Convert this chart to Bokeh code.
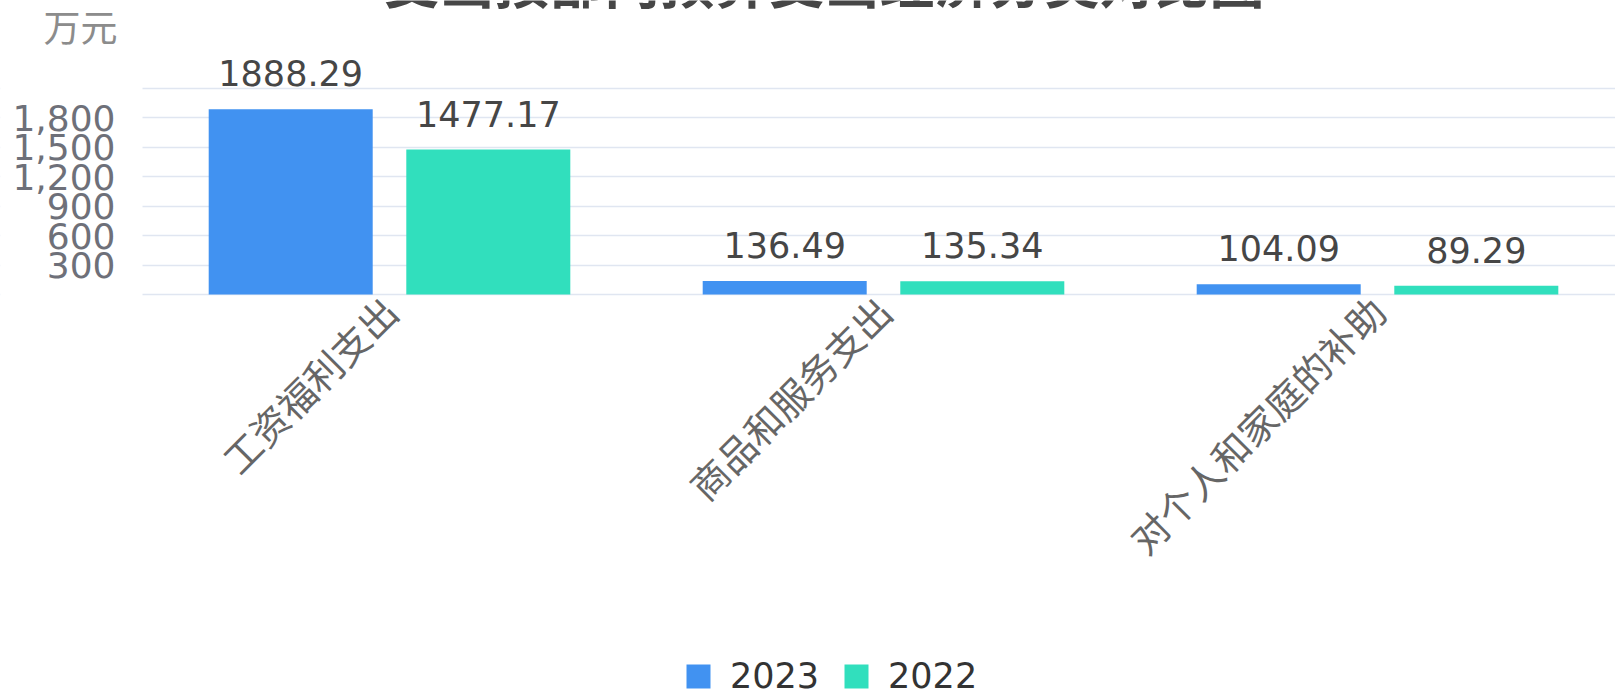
from math import pi
from bokeh.plotting import figure
from bokeh.models import (ColumnDataSource, Range1d, FixedTicker, NumeralTickFormatter,
                          Label, Legend, LegendItem, BoxAnnotation)
from bokeh.transform import dodge
from bokeh.core.properties import value
from bokeh.embed import file_html
from bokeh.resources import INLINE

# ---------------- data ----------------
categories = ["工资福利支出", "商品和服务支出", "对个人和家庭的补助"]
series_names = ["2023", "2022"]
values_2023 = [1888.29, 136.49, 104.09]
values_2022 = [1477.17, 135.34, 89.29]
y_tick_values = [300, 600, 900, 1200, 1500, 1800]
grid_values = [0, 300, 600, 900, 1200, 1500, 1800, 2100]
title_text = "支出按部门预算支出经济分类对比图"
unit_text = "万元"

# ---------------- styles / layout (pixels) ----------------
C_2023 = "#4192f1"
C_2022 = "#31dfbd"
GRID = "#e0e6f1"
NUM_FONT = value("DejaVu Sans")

W, H = 1615, 695
AXIS_X_PX = 142        # where the value axis sits
ZERO_Y_PX = 294        # where the category axis sits (from top)
CAT_PX = 494           # width of one category
AXIS_MAX = 2100
AXIS_PX = 206          # pixel height of 0..2100
u_per_px = AXIS_MAX / AXIS_PX

x_start = -0.5 - AXIS_X_PX / CAT_PX
x_end = -0.5 + (W - AXIS_X_PX) / CAT_PX
y_start = -(H - ZERO_Y_PX) * u_per_px
y_end = ZERO_Y_PX * u_per_px

positions = list(range(len(categories)))
src = ColumnDataSource(dict(
    x=positions,
    v2023=values_2023,
    v2022=values_2022,
    t2023=["%.2f" % v for v in values_2023],
    t2022=["%.2f" % v for v in values_2022],
))

p = figure(width=W, height=H,
           x_range=Range1d(x_start, x_end), y_range=Range1d(y_start, y_end),
           toolbar_location=None, output_backend="svg", min_border=0)
p.outline_line_color = None
p.background_fill_color = "white"
p.border_fill_color = "white"

r1 = p.vbar(x=dodge("x", -0.2), top="v2023", width=0.332, source=src,
            fill_color=C_2023, line_color=None)
r2 = p.vbar(x=dodge("x", 0.2), top="v2022", width=0.332, source=src,
            fill_color=C_2022, line_color=None)

for col, off in (("2023", -0.2), ("2022", 0.2)):
    p.text(x=dodge("x", off), y="v" + col, text="t" + col, source=src,
           text_align="center", text_baseline="alphabetic", y_offset=-36,
           text_font=NUM_FONT, text_font_size="35px", text_color="#464646")

# grid (value lines start at the value axis)
p.xgrid.visible = False
p.ygrid.ticker = FixedTicker(ticks=grid_values)
p.ygrid.grid_line_color = GRID
p.ygrid.grid_line_width = 1.5
p.add_layout(BoxAnnotation(right=-0.5, fill_color="white", fill_alpha=1.0,
                           line_color=None, level="underlay"))

# x axis, fixed at value 0
p.xaxis.fixed_location = 0
p.xaxis.ticker = FixedTicker(ticks=positions)
p.xaxis.major_label_overrides = {i: c for i, c in zip(positions, categories)}
p.xaxis.major_label_orientation = pi / 4
p.xaxis.major_label_text_font = "Noto Sans CJK SC"
p.xaxis.major_label_text_font_size = "38px"
p.xaxis.major_label_text_color = "#666666"
p.xaxis.major_label_standoff = 3
p.xaxis.axis_line_color = None
p.xaxis.major_tick_line_color = None
p.xaxis.minor_tick_line_color = None

# y axis, fixed at the left edge of the first category
p.yaxis.fixed_location = -0.5
p.yaxis.ticker = FixedTicker(ticks=y_tick_values)
p.yaxis.formatter = NumeralTickFormatter(format="0,0")
p.yaxis.major_label_text_font = "DejaVu Sans"
p.yaxis.major_label_text_font_size = "36px"
p.yaxis.major_label_text_color = "#6e7079"
p.yaxis.major_label_standoff = 21
p.yaxis.axis_line_color = None
p.yaxis.major_tick_line_color = None
p.yaxis.minor_tick_line_color = None

# unit name and title (title runs off the top edge, as in the original)
p.add_layout(Label(x=43, y=H - 25, x_units="screen", y_units="screen", text=unit_text,
                   text_font="Noto Sans CJK SC", text_font_size="37px",
                   text_color="#8c8c8c", text_align="left", text_baseline="middle"))
p.add_layout(Label(x=824, y=H + 22, x_units="screen", y_units="screen", text=title_text,
                   text_font="Noto Sans CJK SC", text_font_size="55px", text_font_style="bold",
                   text_color="#464646", text_align="center", text_baseline="alphabetic"))

legend = Legend(items=[LegendItem(label=series_names[0], renderers=[r1]),
                       LegendItem(label=series_names[1], renderers=[r2])],
                location=(683, -1), orientation="horizontal",
                glyph_width=30, glyph_height=30, label_standoff=17, spacing=22,
                padding=0, margin=0, border_line_color=None, background_fill_alpha=0,
                label_text_font="DejaVu Sans", label_text_font_size="35px",
                label_text_color="#333333")
p.add_layout(legend, "center")

open("out.html", "w").write(file_html(p, INLINE))
